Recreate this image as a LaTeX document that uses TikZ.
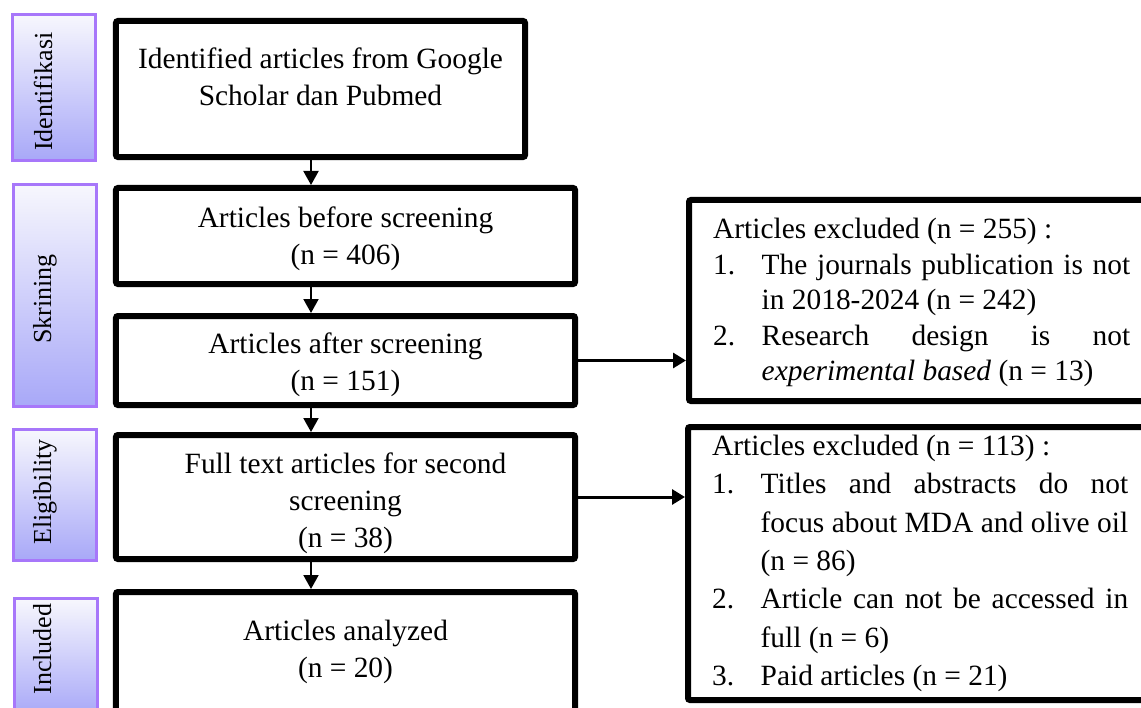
\documentclass[tikz,border=0pt]{standalone}
\usepackage{fontspec}
\setmainfont{Liberation Serif}
\usetikzlibrary{arrows.meta}
\definecolor{sideborder}{RGB}{167,119,250}
\definecolor{sidetop}{RGB}{247,247,253}
\definecolor{sidebot}{RGB}{168,168,248}
\begin{document}
\begin{tikzpicture}[x=1bp,y=-1bp,
  mainbox/.style={draw=black, line width=6bp, rounded corners=2bp, inner sep=0pt},
  sidebox/.style={draw=sideborder, line width=2.5bp, top color=sidetop, bottom color=sidebot, inner sep=0pt},
  sidelabel/.style={rotate=90, anchor=base, inner sep=0pt, font=\fontsize{26bp}{30bp}\selectfont},
  maintext/.style={anchor=north, align=center, inner sep=0pt, font=\fontsize{29.4bp}{37bp}\selectfont},
  listtext/.style={anchor=north west, align=justify, inner sep=0pt, font=\fontsize{29.4bp}{37bp}\selectfont},
  varr/.style={line width=2bp, -{Triangle[length=14bp,width=15bp]}},
  harr/.style={line width=3bp, -{Triangle[length=13bp,width=15bp]}}
]
\useasboundingbox (0,0) rectangle (1141,708);
\clip (0,0) rectangle (1141,708);

% side phase boxes
\node[sidebox, minimum width=83bp, minimum height=146bp] (s1) at (54,87.5) {};
\node[sidebox, minimum width=83bp, minimum height=222bp] (s2) at (55,295.5) {};
\node[sidebox, minimum width=83bp, minimum height=131bp] (s3) at (55,495) {};
\node[sidebox, minimum width=83bp, minimum height=117bp] (s4) at (56,657) {};
\node[sidelabel] (l1) at (52,91.5) {Identifikasi};
\node[sidelabel] (l2) at (51,299) {Skrining};
\node[sidelabel] (l3) at (51,492) {Eligibility};
\node[sidelabel] (l4) at (51,649) {Included};

% main boxes
\node[mainbox, minimum width=409bp, minimum height=136bp] (b1) at (320.5,89) {};
\node[mainbox, minimum width=459bp, minimum height=96bp] (b2) at (345.5,236) {};
\node[mainbox, minimum width=459bp, minimum height=89bp] (b3) at (345.5,360.5) {};
\node[mainbox, minimum width=459bp, minimum height=124bp] (b4) at (345.5,497) {};
\node[mainbox, minimum width=459bp, minimum height=120bp] (b5) at (345.5,652) {};

\node[maintext] (t1) at (320.5,48) {Identified articles from Google\\Scholar dan Pubmed};
\node[maintext] (t2) at (345.5,207) {Articles before screening\\(n = 406)};
\node[maintext] (t3) at (345.5,332.5) {Articles after screening\\(n = 151)};
\node[maintext] (t4) at (345.5,453) {Full text articles for second\\screening\\(n = 38)};
\node[maintext] (t5) at (345.5,620) {Articles analyzed\\(n = 20)};

% right boxes
\node[mainbox, minimum width=471bp, minimum height=201bp] (r1) at (924.5,300.5) {};
\node[mainbox, minimum width=472bp, minimum height=273bp] (r2) at (924,563.5) {};

\node[listtext, text width=417bp] (rt1) at (713,218) {\fontsize{29.4bp}{35.5bp}\selectfont\hyphenpenalty=10000
\noindent Articles excluded (n = 255) :\par
\hangindent=48.5bp\hangafter=1
\noindent\makebox[48.5bp][l]{1.}The journals publication is not\linebreak in 2018-2024 (n = 242)\par
\hangindent=48.5bp\hangafter=1
\noindent\makebox[48.5bp][l]{2.}Research design is not\linebreak \textit{experimental based} (n = 13)\par};

\node[listtext, text width=416bp] (rt2) at (712,435) {\fontsize{29.4bp}{38.3bp}\selectfont\hyphenpenalty=10000
\noindent Articles excluded (n = 113) :\par
\hangindent=48.5bp\hangafter=1
\noindent\makebox[48.5bp][l]{1.}Titles and abstracts do not\linebreak focus about MDA and olive oil\linebreak (n = 86)\par
\hangindent=48.5bp\hangafter=1
\noindent\makebox[48.5bp][l]{2.}Article can not be accessed in\linebreak full (n = 6)\par
\hangindent=48.5bp\hangafter=1
\noindent\makebox[48.5bp][l]{3.}Paid articles (n = 21)\par};

% arrows
\coordinate (ax) at (311,0);
\draw[varr] (b1.south -| ax) -- (b2.north -| ax);
\draw[varr] (b2.south -| ax) -- (b3.north -| ax);
\draw[varr] (b3.south -| ax) -- (b4.north -| ax);
\draw[varr] (b4.south -| ax) -- (b5.north -| ax);
\draw[harr] (b3.east) -- (b3.east -| r1.west);
\draw[harr] (b4.east) -- (b4.east -| r2.west);
\end{tikzpicture}
\end{document}
